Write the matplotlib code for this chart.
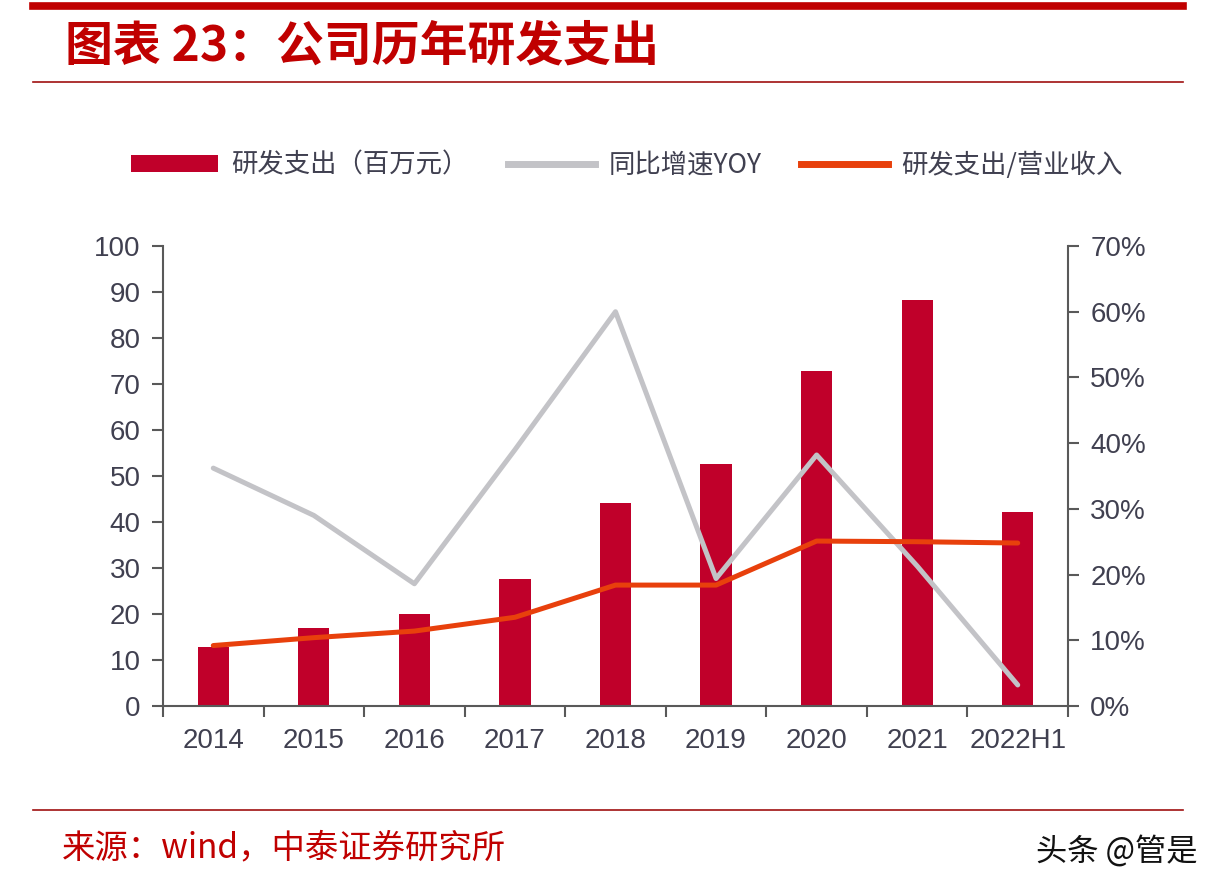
import matplotlib
matplotlib.use("Agg")
import matplotlib.pyplot as plt
from matplotlib.patches import Patch
from matplotlib.lines import Line2D
from matplotlib.ticker import FuncFormatter, FixedLocator

plt.rcParams['font.family'] = ['Liberation Sans', 'Noto Sans CJK SC', 'DejaVu Sans']

# ---- data ----
categories = ["2014", "2015", "2016", "2017", "2018", "2019", "2020", "2021", "2022H1"]
rd_expense = [12.9, 16.9, 19.9, 27.6, 44.1, 52.7, 72.8, 88.3, 42.2]          # 百万元
yoy_growth = [0.362, 0.290, 0.186, 0.390, 0.600, 0.194, 0.382, 0.213, 0.032]
rd_ratio = [0.092, 0.104, 0.114, 0.135, 0.184, 0.184, 0.251, 0.250, 0.248]
left_ticks = [0, 10, 20, 30, 40, 50, 60, 70, 80, 90, 100]
right_ticks = [0, 0.1, 0.2, 0.3, 0.4, 0.5, 0.6, 0.7]

title_text = "图表 23：公司历年研发支出"
legend_labels = ["研发支出（百万元）", "同比增速YOY", "研发支出/营业收入"]
source_text = "来源：wind，中泰证券研究所"
watermark_text = "头条 @管是"

# ---- style ----
BAR_C = "#C0002A"
GRAY_C = "#C3C3C7"
ORANGE_C = "#E8400C"
RED_TITLE = "#C00000"
AXIS_C = "#595959"
TXT_C = "#404050"
CJK = ['Noto Sans CJK SC', 'DejaVu Sans']

fig = plt.figure(figsize=(12.24, 8.94), dpi=100)
fig.patch.set_facecolor("white")

# decorative header / footer lines
fig.add_artist(Line2D([33/1224, 1183/1224], [1-6/894, 1-6/894], color="#C00000", lw=5.5))
fig.add_artist(Line2D([33/1224, 1183/1224], [1-82/894, 1-82/894], color="#A01010", lw=1.2))
fig.add_artist(Line2D([33/1224, 1183/1224], [1-810/894, 1-810/894], color="#A01010", lw=1.2))

fig.text(65/1224, 1-46/894, title_text, color=RED_TITLE, fontsize=34.5, fontweight="bold",
         style="italic", family=CJK, va="center", ha="left")
fig.text(62/1224, 1-848/894, source_text, color="#C00000", fontsize=24, family=CJK,
         va="center", ha="left")
fig.text(1198/1224, 1-852/894, watermark_text, color="#111111", fontsize=22.5, family=CJK,
         va="center", ha="right")

ax = fig.add_axes([163/1224, 1-706/894, (1068-163)/1224, (706-246)/894])
ax2 = ax.twinx()

x = list(range(len(categories)))
ax.bar(x, rd_expense, width=0.31, color=BAR_C, zorder=2)
ax2.plot(x, yoy_growth, color=GRAY_C, lw=3.6, solid_joinstyle="round", solid_capstyle="round", zorder=3)
ax2.plot(x, rd_ratio, color=ORANGE_C, lw=3.6, solid_joinstyle="round", solid_capstyle="round", zorder=4)

ax.set_xlim(-0.5, len(categories) - 0.5)
ax.set_ylim(0, 100)
ax2.set_ylim(0, 0.7)

ax.set_yticks(left_ticks)
ax2.set_yticks(right_ticks)
ax2.yaxis.set_major_formatter(FuncFormatter(lambda v, p: f"{v*100:.0f}%"))

# x ticks: marks at category boundaries, labels at centers
ax.xaxis.set_major_locator(FixedLocator([i - 0.5 for i in range(len(categories) + 1)]))
ax.xaxis.set_major_formatter(FuncFormatter(lambda v, p: ""))
ax.set_xticks(x, minor=True)
ax.set_xticklabels(categories, minor=True)
ax.tick_params(axis="x", which="major", direction="out", length=8, width=1.5, color=AXIS_C)
ax.tick_params(axis="x", which="minor", length=0, pad=16, labelsize=20, labelcolor=TXT_C)
ax.tick_params(axis="y", direction="out", length=8, width=1.5, color=AXIS_C,
               labelsize=20, labelcolor=TXT_C, pad=8)
ax2.tick_params(axis="y", direction="out", length=8, width=1.5, color=AXIS_C,
                labelsize=20, labelcolor=TXT_C, pad=8)

for a in (ax, ax2):
    a.spines["top"].set_visible(False)
    for s in ("left", "bottom", "right"):
        a.spines[s].set_color(AXIS_C)
        a.spines[s].set_linewidth(1.5)
ax.spines["right"].set_visible(False)
ax2.spines["left"].set_visible(False)
ax2.spines["bottom"].set_visible(False)
ax.set_facecolor("none")

handles = [Patch(facecolor=BAR_C, edgecolor="none"),
           Line2D([], [], color=GRAY_C, lw=5),
           Line2D([], [], color=ORANGE_C, lw=5)]
leg = fig.legend(handles, legend_labels, loc="center", bbox_to_anchor=(0.512, 1-165/894),
                 ncol=3, frameon=False, handlelength=3.3, handleheight=0.6, handletextpad=0.5,
                 columnspacing=1.5, prop={"family": CJK, "size": 19})
for t in leg.get_texts():
    t.set_color(TXT_C)

fig.savefig("out.png", dpi=100, facecolor="white")
